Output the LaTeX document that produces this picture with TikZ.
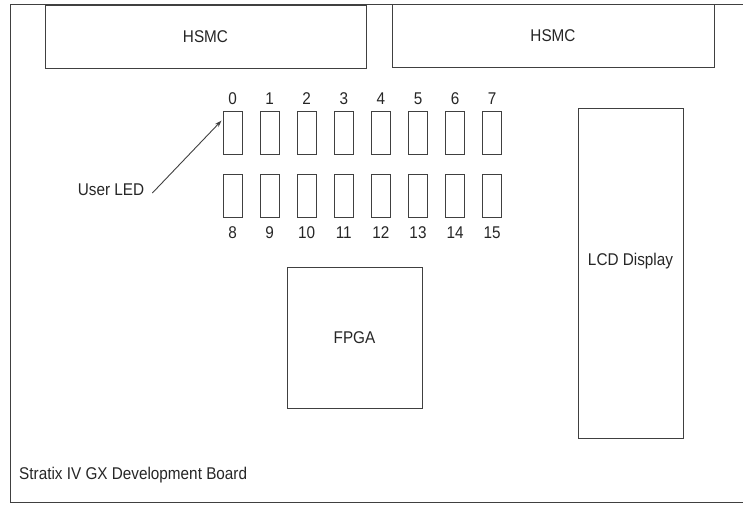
\documentclass[tikz,border=0pt]{standalone}
\usepackage{fontspec}
\setmainfont[FakeStretch=0.9]{Liberation Sans}
\usetikzlibrary{arrows.meta}
\begin{document}
\begin{tikzpicture}[x=1pt,y=-1pt,
  line/.style={draw=black!75,line width=0.9pt},
  box/.style={line,rectangle,inner sep=0pt,font=\fontsize{17}{20}\selectfont},
  ledbox/.style={line,rectangle,inner sep=0pt,minimum width=19pt,minimum height=43pt},
  lbl/.style={inner sep=0pt,font=\fontsize{17}{20}\selectfont,text=black!85},
  arr/.style={line,-{Stealth[length=7pt,width=4.5pt]}}]
\useasboundingbox (0,0) rectangle (743,504);
% board outline
\draw[line] (750,4) -- (10,4) -- (10,502) -- (750,502);
\node[lbl,anchor=west] (board) at (19,475) {Stratix IV GX Development Board};
% HSMC connectors
\node[box,minimum width=321pt,minimum height=63pt,text=black!85] (hsmcA) at (205.5,36.5) {HSMC};
\node[box,minimum width=322pt,minimum height=63pt,text=black!85] (hsmcB) at (553,35.5) {HSMC};
% LEDs
\foreach \i in {0,...,7}{
  \pgfmathsetmacro{\xx}{232.5+37.1*\i}
  \node[ledbox] (led\i) at (\xx,132.5) {};
  \node[lbl] (ledlbl\i) at (\xx,99) {\i};
  \pgfmathtruncatemacro{\j}{\i+8}
  \node[ledbox] (led\j) at (\xx,195.5) {};
  \node[lbl] (ledlbl\j) at (\xx,233) {\j};
}
\node[lbl] (userled) at (111,190) {User LED};
\draw[arr] ([xshift=8pt,yshift=-3pt]userled.east) -- ([xshift=-1pt,yshift=-10pt]led0.north west);
% FPGA
\node[box,minimum width=135pt,minimum height=141pt,text=black!85] (fpga) at (354.5,337.5) {FPGA};
% LCD
\node[box,minimum width=105pt,minimum height=330pt] (lcd) at (630.5,273) {};
\node[lbl] (lcdtext) at (630.5,261) {LCD Display};
\end{tikzpicture}
\end{document}
